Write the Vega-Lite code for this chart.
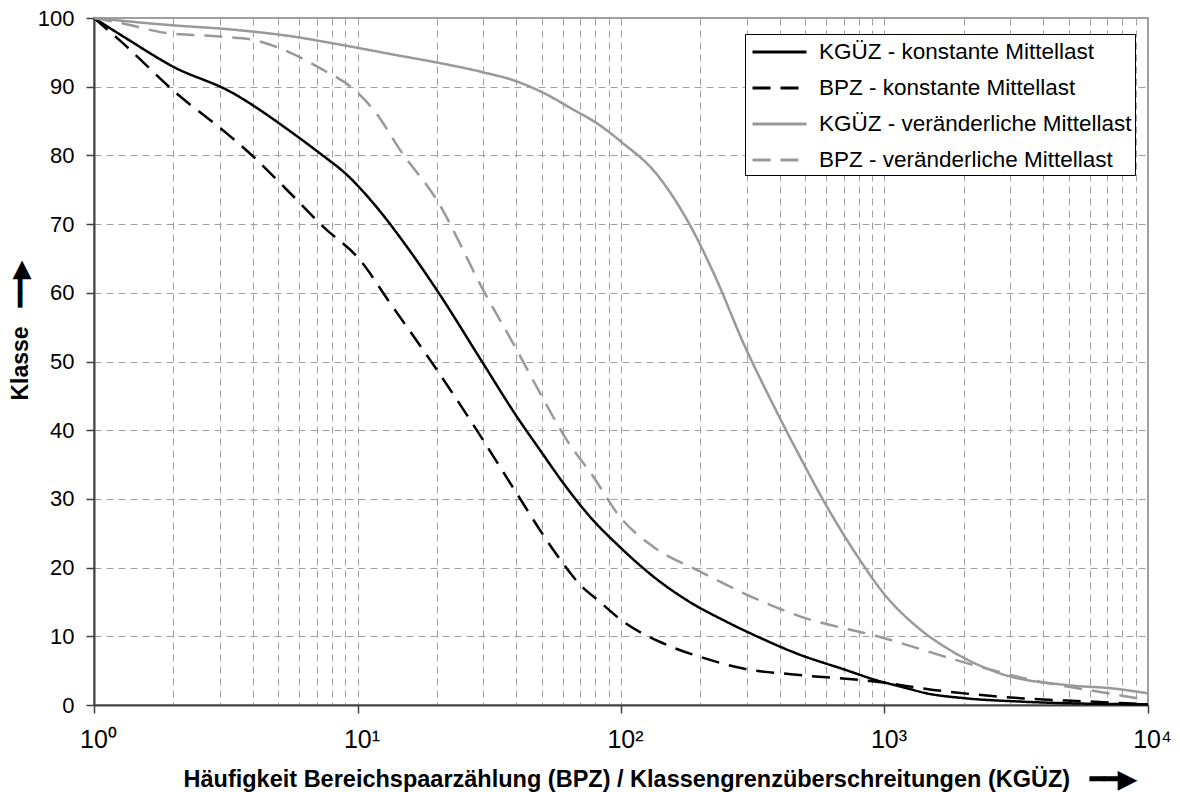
{
  "$schema": "https://vega.github.io/schema/vega-lite/v6.json",
  "width": 1054,
  "height": 687,
  "autosize": {"type": "none"},
  "padding": {"left": 94, "top": 18, "right": 32, "bottom": 87},
  "background": "white",
  "config": {
    "font": "Liberation Sans",
    "view": {"stroke": "#808080", "strokeWidth": 1.5}
  },
  "data": {
    "values": [
      {"s": "KGÜZ - konstante Mittellast", "x": 1, "y": 100},
      {"s": "KGÜZ - konstante Mittellast", "x": 1.33, "y": 97.0},
      {"s": "KGÜZ - konstante Mittellast", "x": 2.0, "y": 92.9},
      {"s": "KGÜZ - konstante Mittellast", "x": 3.28, "y": 89.3},
      {"s": "KGÜZ - konstante Mittellast", "x": 5.7, "y": 83.2},
      {"s": "KGÜZ - konstante Mittellast", "x": 7.2, "y": 80.3},
      {"s": "KGÜZ - konstante Mittellast", "x": 9.1, "y": 77.2},
      {"s": "KGÜZ - konstante Mittellast", "x": 11.8, "y": 72.5},
      {"s": "KGÜZ - konstante Mittellast", "x": 15.4, "y": 66.7},
      {"s": "KGÜZ - konstante Mittellast", "x": 20, "y": 60.4},
      {"s": "KGÜZ - konstante Mittellast", "x": 30, "y": 49.7},
      {"s": "KGÜZ - konstante Mittellast", "x": 40.2, "y": 42.0},
      {"s": "KGÜZ - konstante Mittellast", "x": 49.3, "y": 37.1},
      {"s": "KGÜZ - konstante Mittellast", "x": 60.4, "y": 32.3},
      {"s": "KGÜZ - konstante Mittellast", "x": 76.3, "y": 27.4},
      {"s": "KGÜZ - konstante Mittellast", "x": 99, "y": 23.0},
      {"s": "KGÜZ - konstante Mittellast", "x": 140, "y": 18.0},
      {"s": "KGÜZ - konstante Mittellast", "x": 177, "y": 15.3},
      {"s": "KGÜZ - konstante Mittellast", "x": 252, "y": 12.1},
      {"s": "KGÜZ - konstante Mittellast", "x": 350, "y": 9.5},
      {"s": "KGÜZ - konstante Mittellast", "x": 464, "y": 7.5},
      {"s": "KGÜZ - konstante Mittellast", "x": 700, "y": 5.2},
      {"s": "KGÜZ - konstante Mittellast", "x": 933, "y": 3.6},
      {"s": "KGÜZ - konstante Mittellast", "x": 1200, "y": 2.5},
      {"s": "KGÜZ - konstante Mittellast", "x": 1445, "y": 1.7},
      {"s": "KGÜZ - konstante Mittellast", "x": 2000, "y": 1.0},
      {"s": "KGÜZ - konstante Mittellast", "x": 3266, "y": 0.5},
      {"s": "KGÜZ - konstante Mittellast", "x": 5000, "y": 0.25},
      {"s": "KGÜZ - konstante Mittellast", "x": 10000, "y": 0.1},

      {"s": "BPZ - konstante Mittellast", "x": 1, "y": 100},
      {"s": "BPZ - konstante Mittellast", "x": 1.29, "y": 96.3},
      {"s": "BPZ - konstante Mittellast", "x": 2.06, "y": 89.0},
      {"s": "BPZ - konstante Mittellast", "x": 3.19, "y": 83.2},
      {"s": "BPZ - konstante Mittellast", "x": 4.03, "y": 79.8},
      {"s": "BPZ - konstante Mittellast", "x": 5.39, "y": 75.0},
      {"s": "BPZ - konstante Mittellast", "x": 7.42, "y": 69.6},
      {"s": "BPZ - konstante Mittellast", "x": 10.2, "y": 64.8},
      {"s": "BPZ - konstante Mittellast", "x": 13.3, "y": 58.5},
      {"s": "BPZ - konstante Mittellast", "x": 20, "y": 48.8},
      {"s": "BPZ - konstante Mittellast", "x": 27.5, "y": 40.8},
      {"s": "BPZ - konstante Mittellast", "x": 40.2, "y": 30.8},
      {"s": "BPZ - konstante Mittellast", "x": 55.3, "y": 22.6},
      {"s": "BPZ - konstante Mittellast", "x": 70, "y": 17.5},
      {"s": "BPZ - konstante Mittellast", "x": 83.2, "y": 15.0},
      {"s": "BPZ - konstante Mittellast", "x": 100, "y": 12.4},
      {"s": "BPZ - konstante Mittellast", "x": 150, "y": 8.7},
      {"s": "BPZ - konstante Mittellast", "x": 200, "y": 7.0},
      {"s": "BPZ - konstante Mittellast", "x": 291, "y": 5.3},
      {"s": "BPZ - konstante Mittellast", "x": 464, "y": 4.4},
      {"s": "BPZ - konstante Mittellast", "x": 933, "y": 3.4},
      {"s": "BPZ - konstante Mittellast", "x": 1531, "y": 2.2},
      {"s": "BPZ - konstante Mittellast", "x": 3266, "y": 1.0},
      {"s": "BPZ - konstante Mittellast", "x": 6000, "y": 0.5},
      {"s": "BPZ - konstante Mittellast", "x": 10000, "y": 0.1},

      {"s": "KGÜZ - veränderliche Mittellast", "x": 1, "y": 100},
      {"s": "KGÜZ - veränderliche Mittellast", "x": 1.89, "y": 99.0},
      {"s": "KGÜZ - veränderliche Mittellast", "x": 3.38, "y": 98.3},
      {"s": "KGÜZ - veränderliche Mittellast", "x": 5.7, "y": 97.3},
      {"s": "KGÜZ - veränderliche Mittellast", "x": 8.1, "y": 96.3},
      {"s": "KGÜZ - veränderliche Mittellast", "x": 14.5, "y": 94.5},
      {"s": "KGÜZ - veränderliche Mittellast", "x": 18.9, "y": 93.7},
      {"s": "KGÜZ - veränderliche Mittellast", "x": 29.2, "y": 92.2},
      {"s": "KGÜZ - veränderliche Mittellast", "x": 40, "y": 90.8},
      {"s": "KGÜZ - veränderliche Mittellast", "x": 52, "y": 88.9},
      {"s": "KGÜZ - veränderliche Mittellast", "x": 65, "y": 86.8},
      {"s": "KGÜZ - veränderliche Mittellast", "x": 83, "y": 84.4},
      {"s": "KGÜZ - veränderliche Mittellast", "x": 100, "y": 82.0},
      {"s": "KGÜZ - veränderliche Mittellast", "x": 135, "y": 77.5},
      {"s": "KGÜZ - veränderliche Mittellast", "x": 183, "y": 69.8},
      {"s": "KGÜZ - veränderliche Mittellast", "x": 230, "y": 62.0},
      {"s": "KGÜZ - veränderliche Mittellast", "x": 292, "y": 52.6},
      {"s": "KGÜZ - veränderliche Mittellast", "x": 368, "y": 44.6},
      {"s": "KGÜZ - veränderliche Mittellast", "x": 478, "y": 36.1},
      {"s": "KGÜZ - veränderliche Mittellast", "x": 586, "y": 29.8},
      {"s": "KGÜZ - veränderliche Mittellast", "x": 807, "y": 21.1},
      {"s": "KGÜZ - veränderliche Mittellast", "x": 990, "y": 16.3},
      {"s": "KGÜZ - veränderliche Mittellast", "x": 1326, "y": 11.4},
      {"s": "KGÜZ - veränderliche Mittellast", "x": 1773, "y": 8.0},
      {"s": "KGÜZ - veränderliche Mittellast", "x": 2742, "y": 4.6},
      {"s": "KGÜZ - veränderliche Mittellast", "x": 4909, "y": 2.9},
      {"s": "KGÜZ - veränderliche Mittellast", "x": 7380, "y": 2.4},
      {"s": "KGÜZ - veränderliche Mittellast", "x": 10000, "y": 1.7},

      {"s": "BPZ - veränderliche Mittellast", "x": 1, "y": 100},
      {"s": "BPZ - veränderliche Mittellast", "x": 1.29, "y": 99.2},
      {"s": "BPZ - veränderliche Mittellast", "x": 1.89, "y": 97.8},
      {"s": "BPZ - veränderliche Mittellast", "x": 3.0, "y": 97.3},
      {"s": "BPZ - veränderliche Mittellast", "x": 4.03, "y": 96.8},
      {"s": "BPZ - veränderliche Mittellast", "x": 5.08, "y": 95.6},
      {"s": "BPZ - veränderliche Mittellast", "x": 7.2, "y": 92.7},
      {"s": "BPZ - veränderliche Mittellast", "x": 9.9, "y": 89.3},
      {"s": "BPZ - veränderliche Mittellast", "x": 11.8, "y": 86.1},
      {"s": "BPZ - veränderliche Mittellast", "x": 14.5, "y": 80.8},
      {"s": "BPZ - veränderliche Mittellast", "x": 20, "y": 73.5},
      {"s": "BPZ - veränderliche Mittellast", "x": 30, "y": 60.4},
      {"s": "BPZ - veränderliche Mittellast", "x": 40.2, "y": 51.7},
      {"s": "BPZ - veränderliche Mittellast", "x": 49.3, "y": 45.4},
      {"s": "BPZ - veränderliche Mittellast", "x": 62.2, "y": 38.6},
      {"s": "BPZ - veränderliche Mittellast", "x": 78.6, "y": 33.2},
      {"s": "BPZ - veränderliche Mittellast", "x": 99, "y": 27.4},
      {"s": "BPZ - veränderliche Mittellast", "x": 133, "y": 23.0},
      {"s": "BPZ - veränderliche Mittellast", "x": 200, "y": 19.4},
      {"s": "BPZ - veränderliche Mittellast", "x": 291, "y": 16.3},
      {"s": "BPZ - veränderliche Mittellast", "x": 478, "y": 12.9},
      {"s": "BPZ - veränderliche Mittellast", "x": 962, "y": 9.9},
      {"s": "BPZ - veränderliche Mittellast", "x": 2052, "y": 6.1},
      {"s": "BPZ - veränderliche Mittellast", "x": 3672, "y": 3.6},
      {"s": "BPZ - veränderliche Mittellast", "x": 6577, "y": 1.9},
      {"s": "BPZ - veränderliche Mittellast", "x": 10000, "y": 0.7}
    ]
  },
  "mark": {"type": "line", "interpolate": "monotone", "strokeWidth": 2.5},
  "encoding": {
    "x": {
      "field": "x",
      "type": "quantitative",
      "scale": {"type": "log", "domain": [1, 10000], "nice": false},
      "axis": {
        "values": [1,2,3,4,5,6,7,8,9,10,20,30,40,50,60,70,80,90,100,200,300,400,500,600,700,800,900,1000,2000,3000,4000,5000,6000,7000,8000,9000,10000],
        "labelExpr": "datum.value == 1 ? '10⁰' : datum.value == 10 ? '10¹' : datum.value == 100 ? '10²' : datum.value == 1000 ? '10³' : datum.value == 10000 ? '10⁴' : ''",
        "grid": true,
        "gridDash": [7, 5],
        "gridColor": "#a0a0a0",
        "gridWidth": 1,
        "domainColor": "#404040",
        "domainWidth": 2,
        "tickColor": "#404040",
        "tickWidth": 1.5,
        "tickSize": 8,
        "tickOpacity": {"condition": {"test": "datum.value == 1 || datum.value == 10 || datum.value == 100 || datum.value == 1000 || datum.value == 10000", "value": 1}, "value": 0},
        "labelFontSize": 25,
        "labelColor": "black",
        "labelPadding": 14,
        "labelOffset": 4,
        "labelFlush": false,
        "labelOverlap": false,
        "title": "Häufigkeit Bereichspaarzählung (BPZ) / Klassengrenzüberschreitungen (KGÜZ)\u00a0\u00a0\u00a0━━▶",
        "titleFontSize": 23.5,
        "titleFontWeight": "bold",
        "titleColor": "black",
        "titleAlign": "left",
        "titleAnchor": "start",
        "titleBaseline": "alphabetic",
        "titleX": 89,
        "titleY": 81
      }
    },
    "y": {
      "field": "y",
      "type": "quantitative",
      "scale": {"domain": [0, 100], "nice": false},
      "axis": {
        "values": [0,10,20,30,40,50,60,70,80,90,100],
        "grid": true,
        "gridDash": [7, 5],
        "gridColor": "#a0a0a0",
        "gridWidth": 1,
        "domainColor": "#404040",
        "domainWidth": 2,
        "tickColor": "#404040",
        "tickWidth": 1.5,
        "tickSize": 8,
        "labelFontSize": 22,
        "labelColor": "black",
        "labelPadding": 12,
        "title": "Klasse\u00a0\u00a0\u00a0━━▶",
        "titleFontSize": 23,
        "titleFontWeight": "bold",
        "titleColor": "black",
        "titleAngle": -90,
        "titleAlign": "left",
        "titleAnchor": "start",
        "titleBaseline": "middle",
        "titleX": -74,
        "titleY": 382
      }
    },
    "color": {
      "field": "s",
      "type": "nominal",
      "scale": {
        "domain": ["KGÜZ - konstante Mittellast", "BPZ - konstante Mittellast", "KGÜZ - veränderliche Mittellast", "BPZ - veränderliche Mittellast"],
        "range": ["#000000", "#000000", "#999999", "#999999"]
      },
      "legend": {
        "orient": "none",
        "legendX": 651,
        "legendY": 16,
        "title": null,
        "symbolType": "M-2,0L2,0",
        "symbolSize": 729,
        "symbolStrokeWidth": 3,
        "symbolOffset": 16.5,
        "labelFontSize": 22.5,
        "labelColor": "black",
        "labelLimit": 500,
        "labelOffset": 24.5,
        "rowPadding": 9,
        "padding": 3,
        "strokeColor": "black",
        "fillColor": "white"
      }
    },
    "strokeDash": {
      "field": "s",
      "type": "nominal",
      "scale": {
        "domain": ["KGÜZ - konstante Mittellast", "BPZ - konstante Mittellast", "KGÜZ - veränderliche Mittellast", "BPZ - veränderliche Mittellast"],
        "range": [[1, 0], [18, 10], [1, 0], [18, 10]]
      },
      "legend": {
        "orient": "none",
        "legendX": 651,
        "legendY": 16,
        "title": null,
        "symbolType": "M-2,0L2,0",
        "symbolSize": 729,
        "symbolStrokeWidth": 3,
        "symbolOffset": 16.5,
        "labelFontSize": 22.5,
        "labelColor": "black",
        "labelLimit": 500,
        "labelOffset": 24.5,
        "rowPadding": 9,
        "padding": 3,
        "strokeColor": "black",
        "fillColor": "white"
      }
    }
  }
}
